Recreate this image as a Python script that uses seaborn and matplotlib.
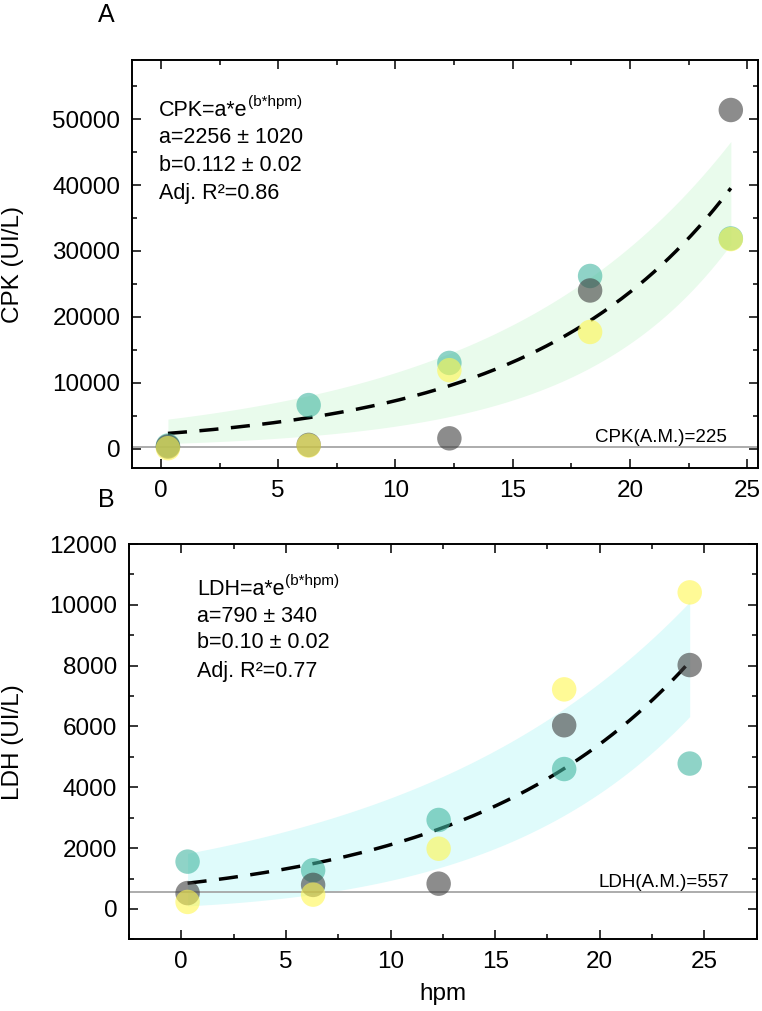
import numpy as np
import pandas as pd
import matplotlib
matplotlib.use("Agg")
import matplotlib.pyplot as plt
import seaborn as sns
from matplotlib.ticker import MultipleLocator, FormatStrFormatter

# ---------------- data ----------------
hpm = [0.3, 6.3, 12.3, 18.3, 24.3]
series = ["Animal 1", "Animal 2", "Animal 3"]          # teal, gray, yellow
cpk_teal = [450, 6600, 13000, 26200, 31900]
cpk_gray = [300, 550, 1550, 24000, 51400]
cpk_yellow = [50, 450, 11900, 17700, 31800]
ldh_teal = [1555, 1270, 2925, 4600, 4780]
ldh_gray = [520, 790, 830, 6040, 8020]
ldh_yellow = [230, 470, 1980, 7220, 10410]

# fitted curve and band edges as drawn (amplitude, rate) of a*exp(b*x)
cpk_fit = (2220, 0.1185)
cpk_band_upper = (4340, 0.0977)
cpk_band_lower = (726, 0.1545)
ldh_fit = (822, 0.0943)
ldh_band_upper = (1790, 0.0712)
ldh_band_lower_delta = (732, 44)   # lower edge = fit - (d0 + d1*x)

cpk_am, ldh_am = 225, 557

cpk_text = ["a=2256 \u00b1 1020", "b=0.112 \u00b1 0.02", "Adj. R\u00b2=0.86"]
ldh_text = ["a=790 \u00b1 340", "b=0.10 \u00b1 0.02", "Adj. R\u00b2=0.77"]

palette = {"Animal 1": "#44b7a2", "Animal 2": "#3f3f3f", "Animal 3": "#fff750"}

# ---------------- style ----------------
sns.set_style("ticks")
plt.rcParams["font.family"] = ["Liberation Sans", "DejaVu Sans"]
plt.rcParams["text.color"] = "black"
plt.rcParams["axes.labelcolor"] = "black"
plt.rcParams["xtick.color"] = "black"
plt.rcParams["ytick.color"] = "black"

fig = plt.figure(figsize=(7.62, 10.11), dpi=100)
axA = fig.add_axes([0.1736, 0.5368, 0.8215, 0.4039])
axB = fig.add_axes([0.1693, 0.0709, 0.8237, 0.3910])


def make_df(teal, gray, yellow, name):
    rows = []
    for s, vals in zip(series, [teal, gray, yellow]):
        for x, v in zip(hpm, vals):
            rows.append({"hpm": x, name: v, "series": s})
    return pd.DataFrame(rows)


dfA = make_df(cpk_teal, cpk_gray, cpk_yellow, "CPK")
dfB = make_df(ldh_teal, ldh_gray, ldh_yellow, "LDH")

xs = np.linspace(hpm[0], hpm[-1], 300)

# ---- panel A ----
fitA = cpk_fit[0] * np.exp(cpk_fit[1] * xs)
upA = cpk_band_upper[0] * np.exp(cpk_band_upper[1] * xs)
loA = cpk_band_lower[0] * np.exp(cpk_band_lower[1] * xs)
axA.fill_between(xs, loA, upA, color="#e9fbec", lw=0, zorder=1)
axA.axhline(cpk_am, color="#a6a6a6", lw=1.3, zorder=1.5)
axA.plot(xs, fitA, color="black", lw=2.5, linestyle=(0, (5.5, 3.6)), zorder=2)
sns.scatterplot(data=dfA, x="hpm", y="CPK", hue="series", palette=palette,
                s=310, alpha=0.6, edgecolor="none", legend=False, ax=axA, zorder=3)

# ---- panel B ----
fitB = ldh_fit[0] * np.exp(ldh_fit[1] * xs)
upB = ldh_band_upper[0] * np.exp(ldh_band_upper[1] * xs)
loB = fitB - (ldh_band_lower_delta[0] + ldh_band_lower_delta[1] * xs)
axB.fill_between(xs, loB, upB, color="#dffbfb", lw=0, zorder=1)
axB.axhline(ldh_am, color="#a6a6a6", lw=1.3, zorder=1.5)
axB.plot(xs, fitB, color="black", lw=2.5, linestyle=(0, (5.5, 3.6)), zorder=2)
sns.scatterplot(data=dfB, x="hpm", y="LDH", hue="series", palette=palette,
                s=310, alpha=0.6, edgecolor="none", legend=False, ax=axB, zorder=3)

# ---- axes formatting ----
axA.set_xlim(-1.22, 25.47)
axA.set_ylim(-3000, 59000)
axB.set_xlim(-2.5, 27.5)
axB.set_ylim(-1000, 12000)

for ax, ymaj, ymin in [(axA, 10000, 5000), (axB, 2000, 1000)]:
    ax.xaxis.set_major_locator(MultipleLocator(5))
    ax.xaxis.set_minor_locator(MultipleLocator(2.5))
    ax.yaxis.set_major_locator(MultipleLocator(ymaj))
    ax.yaxis.set_minor_locator(MultipleLocator(ymin))
    ax.xaxis.set_major_formatter(FormatStrFormatter("%d"))
    ax.yaxis.set_major_formatter(FormatStrFormatter("%d"))
    ax.tick_params(which="both", direction="in", top=True, right=True,
                   width=1.1, colors="black", labelsize=17.5, pad=8.5)
    ax.tick_params(which="major", length=6.7)
    ax.tick_params(which="minor", length=3.6)
    for sp in ax.spines.values():
        sp.set_visible(True)
        sp.set_linewidth(1.4)
        sp.set_color("black")
    ax.set_facecolor("white")

axA.set_xlabel("")
axA.set_ylabel("CPK (UI/L)", fontsize=17.5)
axA.yaxis.set_label_coords(-0.173, 0.5)
axB.set_ylabel("LDH (UI/L)", fontsize=17.5)
axB.yaxis.set_label_coords(-0.167, 0.5)
axB.set_xlabel("hpm", fontsize=17.5)
axB.xaxis.set_label_coords(0.5, -0.110)

# ---- equation annotations ----
def equation(ax, head, lines, x0, ys):
    t = ax.text(x0, ys[0], head, transform=ax.transAxes, fontsize=15.5,
                ha="left", va="baseline", zorder=5)
    ax.annotate("(b*hpm)", xy=(1, 0), xycoords=t, xytext=(0.5, 10.5),
                textcoords="offset points", fontsize=11, ha="left",
                va="baseline", zorder=5)
    for ln, y in zip(lines, ys[1:]):
        ax.text(x0, y, ln, transform=ax.transAxes, fontsize=15.5,
                ha="left", va="baseline", zorder=5)


equation(axA, "CPK=a*e", cpk_text, 0.043, [0.863, 0.796, 0.729, 0.660])
equation(axB, "LDH=a*e", ldh_text, 0.108, [0.871, 0.803, 0.736, 0.663])

axA.text(0.9495, 0.065, f"CPK(A.M.)={cpk_am}", transform=axA.transAxes,
         fontsize=13.5, ha="right", va="baseline", zorder=5)
axB.text(0.956, 0.1315, f"LDH(A.M.)={ldh_am}", transform=axB.transAxes,
         fontsize=13.5, ha="right", va="baseline", zorder=5)

# panel letters
fig.text(0.140, 0.9785, "A", fontsize=18, ha="center", va="baseline")
fig.text(0.140, 0.4988, "B", fontsize=18, ha="center", va="baseline")

fig.savefig("out.png", dpi=100, facecolor="white")
